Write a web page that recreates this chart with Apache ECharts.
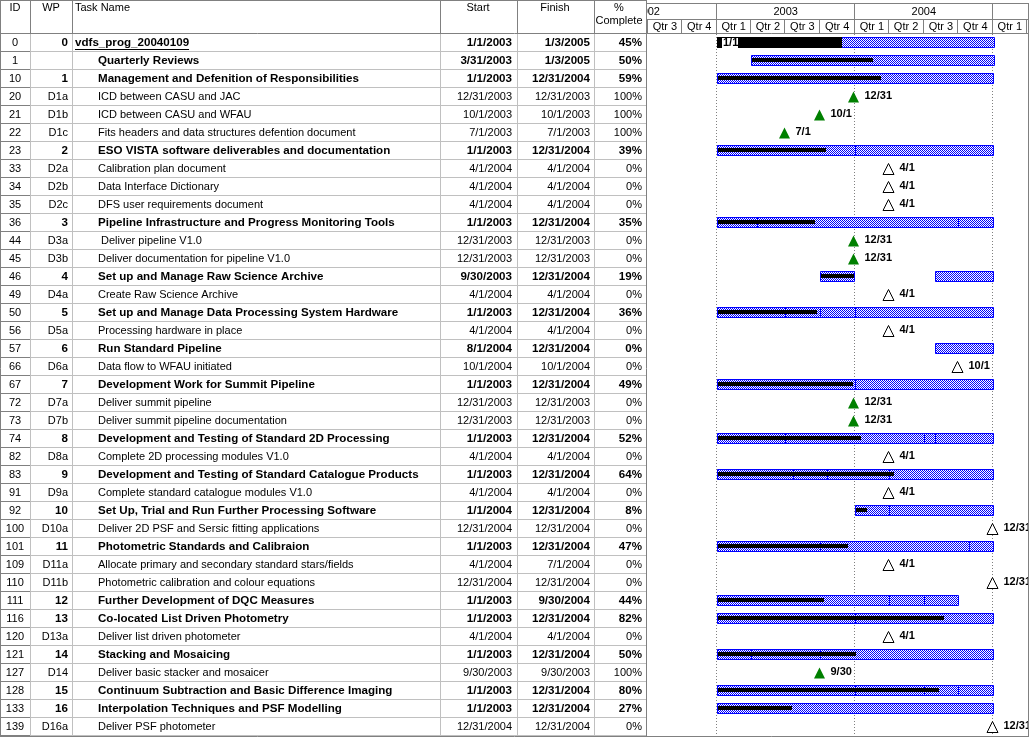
<!DOCTYPE html>
<html><head><meta charset="utf-8">
<script src="https://cdn.jsdelivr.net/npm/echarts@6/dist/echarts.min.js"></script>
<style>html,body{margin:0;padding:0;background:#fff}#c{width:1029px;height:737px}</style>
</head><body><div id="c"></div>
<script>
// ---------------- DATA ----------------
const taskIds = [0,1,10,20,21,22,23,33,34,35,36,44,45,46,49,50,56,57,66,67,72,73,74,82,83,91,92,100,101,109,110,111,116,120,121,127,128,133,139];
const wpCodes = ['0','','1','D1a','D1b','D1c','2','D2a','D2b','D2c','3','D3a','D3b','4','D4a','5','D5a','6','D6a','7','D7a','D7b','8','D8a','9','D9a','10','D10a','11','D11a','D11b','12','13','D13a','14','D14','15','16','D16a'];
const taskNames = [
 'vdfs_prog_20040109',
 'Quarterly Reviews',
 'Management and Defenition of Responsibilities',
 'ICD between CASU and JAC',
 'ICD between CASU and WFAU',
 'Fits headers and data structures defention document',
 'ESO VISTA software deliverables and documentation',
 'Calibration plan document',
 'Data Interface Dictionary',
 'DFS user requirements document',
 'Pipeline Infrastructure and Progress Monitoring Tools',
 ' Deliver pipeline V1.0',
 'Deliver documentation for pipeline V1.0',
 'Set up and Manage Raw Science Archive',
 'Create Raw Science Archive',
 'Set up and Manage Data Processing System Hardware',
 'Processing hardware in place',
 'Run Standard Pipeline',
 'Data flow to WFAU initiated',
 'Development Work for Summit Pipeline',
 'Deliver summit pipeline',
 'Deliver summit pipeline documentation',
 'Development and Testing of Standard 2D Processing',
 'Complete 2D processing modules V1.0',
 'Development and Testing of Standard Catalogue Products',
 'Complete standard catalogue modules V1.0',
 'Set Up, Trial and Run Further Processing Software',
 'Deliver 2D PSF and Sersic fitting applications',
 'Photometric Standards and Calibraion',
 'Allocate primary and secondary standard stars/fields',
 'Photometric calibration and colour equations',
 'Further Development of DQC Measures',
 'Co-located List Driven Photometry',
 'Deliver list driven photometer',
 'Stacking and Mosaicing',
 'Deliver basic stacker and mosaicer',
 'Continuum Subtraction and Basic Difference Imaging',
 'Interpolation Techniques and PSF Modelling',
 'Deliver PSF photometer'
];
const startDates = ['1/1/2003','3/31/2003','1/1/2003','12/31/2003','10/1/2003','7/1/2003','1/1/2003','4/1/2004','4/1/2004','4/1/2004','1/1/2003','12/31/2003','12/31/2003','9/30/2003','4/1/2004','1/1/2003','4/1/2004','8/1/2004','10/1/2004','1/1/2003','12/31/2003','12/31/2003','1/1/2003','4/1/2004','1/1/2003','4/1/2004','1/1/2004','12/31/2004','1/1/2003','4/1/2004','12/31/2004','1/1/2003','1/1/2003','4/1/2004','1/1/2003','9/30/2003','1/1/2003','1/1/2003','12/31/2004'];
const finishDates = ['1/3/2005','1/3/2005','12/31/2004','12/31/2003','10/1/2003','7/1/2003','12/31/2004','4/1/2004','4/1/2004','4/1/2004','12/31/2004','12/31/2003','12/31/2003','12/31/2004','4/1/2004','12/31/2004','4/1/2004','12/31/2004','10/1/2004','12/31/2004','12/31/2003','12/31/2003','12/31/2004','4/1/2004','12/31/2004','4/1/2004','12/31/2004','12/31/2004','12/31/2004','7/1/2004','12/31/2004','9/30/2004','12/31/2004','4/1/2004','12/31/2004','9/30/2003','12/31/2004','12/31/2004','12/31/2004'];
const pctComplete = [45,50,59,100,100,100,39,0,0,0,35,0,0,19,0,36,0,0,0,49,0,0,52,0,64,0,8,0,47,0,0,44,82,0,50,100,80,27,0];
// P = project summary, S = summary / task bar, M = milestone
const rowKinds = ['P','S','S','M','M','M','S','M','M','M','S','M','M','S','M','S','M','S','M','S','M','M','S','M','S','M','S','M','S','M','M','S','S','M','S','M','S','S','M'];
// milestones dated on/before the status date are drawn filled green
const statusDate = '1/9/2004';
// split task segments (by task ID)
const splitSegments = { 46: [['9/30/2003','12/31/2003'], ['8/1/2004','12/31/2004']] };
// internal subtask boundary marks inside bars (by task ID)
const barDividers = {
  23: ['1/1/2004'],
  36: ['4/16/2003','10/1/2004'],
  50: ['7/1/2003','10/1/2003','1/1/2004'],
  67: ['1/1/2004'],
  74: ['7/1/2003','7/1/2004','8/1/2004'],
  83: ['7/20/2003','10/20/2003','4/1/2004'],
  92: ['4/1/2004'],
  101: ['10/1/2003','10/30/2004'],
  111: ['4/1/2004','7/1/2004'],
  116: ['1/1/2004'],
  121: ['4/1/2003','10/1/2003'],
  128: ['1/1/2004','7/1/2004','10/1/2004']
};
// timescale
const yearStarts = ['1/1/2002','1/1/2003','1/1/2004','1/1/2005'];
const yearEnds   = ['1/1/2003','1/1/2004','1/1/2005','1/1/2006'];
const yearNames  = ['2002','2003','2004','2005'];
const quarterStarts = ['7/1/2002','10/1/2002','1/1/2003','4/1/2003','7/1/2003','10/1/2003','1/1/2004','4/1/2004','7/1/2004','10/1/2004','1/1/2005','4/1/2005'];
const quarterEnds   = ['10/1/2002','1/1/2003','4/1/2003','7/1/2003','10/1/2003','1/1/2004','4/1/2004','7/1/2004','10/1/2004','1/1/2005','4/1/2005','7/1/2005'];
const quarterNames  = ['Qtr 3','Qtr 4','Qtr 1','Qtr 2','Qtr 3','Qtr 4','Qtr 1','Qtr 2','Qtr 3','Qtr 4','Qtr 1','Qtr 2'];
const gridYearLines = ['1/1/2003','1/1/2004','1/1/2005'];
const axisMin = '6/27/2002', axisMax = '4/6/2005';

// ---------------- HELPERS ----------------
function parseMDY(s){ const p = s.split('/').map(Number); return new Date(p[2], p[0]-1, p[1]).getTime(); }
const FONT = '11px "Liberation Sans", Arial, sans-serif';
const BFONT = 'bold 11.6px "Liberation Sans", Arial, sans-serif';
const LFONT = 'bold 11px "Liberation Sans", Arial, sans-serif';
const mctx = document.createElement('canvas').getContext('2d');
function textW(t, f){ mctx.font = f; return mctx.measureText(t).width; }
function ln(x1,y1,x2,y2,c,dash){ const o={type:'line', silent:true, shape:{x1,y1,x2,y2}, style:{stroke:c, lineWidth:1}}; if(dash) o.style.lineDash=dash; return o; }
function tx(x,y,t,f,al){ return {type:'text', silent:true, style:{x, y, text:t, font:f, fill:'#000', align:al||'left', verticalAlign:'middle'}}; }

// hatch pattern (blue checkerboard)
const pc = document.createElement('canvas'); pc.width = 2; pc.height = 2;
const pg = pc.getContext('2d'); pg.fillStyle = '#ffffff'; pg.fillRect(0,0,2,2);
pg.fillStyle = '#0000ff'; pg.fillRect(0,0,1,1); pg.fillRect(1,1,1,1);
const hatch = {image: pc, repeat: 'repeat'};

const COLS = [30, 72, 440, 517, 594];
const TABLE_W = 646;

// ---------------- TABLE ----------------
function renderTable(params, api){
  const i = params.dataIndex;
  const yc = Math.round(api.coord([0, i])[1]) + 0.5;
  const top = yc - 9, bot = yc + 9;
  const kind = rowKinds[i];
  const f = kind === 'M' ? FONT : BFONT;
  const ch = [];
  const yb = Math.round(bot) - 0.5;
  ch.push(ln(0, yb, 30, yb, '#808080'));
  ch.push(ln(30, yb, TABLE_W, yb, '#c0c0c0'));
  COLS.forEach(x => ch.push(ln(x+0.5, top, x+0.5, bot, '#c0c0c0')));
  ch.push(tx(15, yc, String(taskIds[i]), FONT, 'center'));
  ch.push(tx(68, yc, wpCodes[i], f, 'right'));
  const nx = kind === 'P' ? 75 : 98;
  ch.push(tx(nx, yc, taskNames[i], f, 'left'));
  if (kind === 'P') {
    const w = textW(taskNames[i], BFONT);
    ch.push(ln(nx, Math.round(yc)+6.5, nx + w, Math.round(yc)+6.5, '#000'));
  }
  ch.push(tx(512, yc, startDates[i], f, 'right'));
  ch.push(tx(590, yc, finishDates[i], f, 'right'));
  ch.push(tx(642, yc, pctComplete[i] + '%', f, 'right'));
  return {type:'group', children: ch};
}

// ---------------- GANTT ----------------
function renderGantt(params, api){
  const i = params.dataIndex;
  const s = parseMDY(startDates[i]), e = parseMDY(finishDates[i]);
  const p0 = api.coord([s, i]);
  const yc = Math.round(p0[1]) + 1;
  const kind = rowKinds[i];
  const ch = [];
  if (kind === 'M') {
    const x = Math.round(p0[0]) - 0.5;
    const done = s <= parseMDY(statusDate);
    ch.push({type:'polygon', silent:true, shape:{points:[[x, yc-5.5],[x-5.5, yc+5.5],[x+5.5, yc+5.5]]},
      style: done ? {fill:'#008000'} : {fill:'#ffffff', stroke:'#000000', lineWidth:1}});
    const p = startDates[i].split('/');
    ch.push(tx(x + 11, yc - 1, p[0] + '/' + p[1], LFONT, 'left'));
  } else {
    const segs = splitSegments[taskIds[i]] || [[startDates[i], finishDates[i]]];
    segs.forEach(sg => {
      const x1 = Math.round(api.coord([parseMDY(sg[0]), i])[0]);
      const x2 = Math.round(api.coord([parseMDY(sg[1]), i])[0]);
      ch.push({type:'rect', silent:true, shape:{x:x1+0.5, y:yc-5.5, width:x2-x1, height:10},
        style:{fill:hatch, stroke:'#0000ff', lineWidth:1}});
    });
    (barDividers[taskIds[i]] || []).forEach(d => {
      const xd = Math.round(api.coord([parseMDY(d), i])[0]) + 0.5;
      ch.push({type:'line', silent:true, shape:{x1:xd, y1:yc-5, x2:xd, y2:yc+4}, style:{stroke:'#0000ff', lineWidth:1}});
    });
    if (pctComplete[i] > 0) {
      const pe = s + (e - s) * pctComplete[i] / 100;
      const x1 = Math.round(p0[0]);
      const x2 = Math.round(api.coord([pe, i])[0]);
      if (kind === 'P') {
        ch.push({type:'rect', silent:true, shape:{x:x1, y:yc-6, width:x2-x1, height:11}, style:{fill:'#000'}});
        ch.push({type:'rect', silent:true, shape:{x:x1+5, y:yc-5, width:16, height:10}, style:{fill:'#fff'}});
        const p = startDates[i].split('/');
        ch.push(tx(x1+6, yc, p[0] + '/' + p[1], LFONT, 'left'));
      } else {
        ch.push({type:'rect', silent:true, shape:{x:x1+1, y:yc-3, width:x2-x1, height:4}, style:{fill:'#000'}});
      }
    }
  }
  return {type:'group', children: ch};
}

function renderYearLine(params, api){
  const x = Math.round(api.coord([parseMDY(gridYearLines[params.dataIndex]), 0])[0]) - 0.5;
  return ln(x, 34, x, 736, '#808080', [1,2]);
}
function renderQuarter(params, api){
  const k = params.dataIndex;
  const x1 = Math.round(api.coord([parseMDY(quarterStarts[k]), 0])[0]) - 0.5;
  const x2 = api.coord([parseMDY(quarterEnds[k]), 0])[0];
  return {type:'group', children:[ ln(x1, 19.5, x1, 33.5, '#808080'), tx((x1+x2)/2, 27, quarterNames[k], FONT, 'center') ]};
}
function renderYear(params, api){
  const k = params.dataIndex;
  const x1 = Math.round(api.coord([parseMDY(yearStarts[k]), 0])[0]) - 0.5;
  const x2 = api.coord([parseMDY(yearEnds[k]), 0])[0];
  return {type:'group', children:[ ln(x1, 3.5, x1, 19.5, '#808080'), tx((x1+x2)/2, 12, yearNames[k], FONT, 'center') ]};
}

// ---------------- CHART ----------------
const chart = echarts.init(document.getElementById('c'), null, {renderer:'canvas'});
const rowsCat = taskIds.map(String);
const headerGraphics = [
  {type:'rect', z:100, shape:{x:0, y:0, width:TABLE_W, height:33}, style:{fill:'#fff'}},
  {type:'text', z:101, style:{x:15, y:8, text:'ID', font:FONT, fill:'#000', align:'center', verticalAlign:'middle'}},
  {type:'text', z:101, style:{x:51, y:8, text:'WP', font:FONT, fill:'#000', align:'center', verticalAlign:'middle'}},
  {type:'text', z:101, style:{x:75, y:8, text:'Task Name', font:FONT, fill:'#000', align:'left', verticalAlign:'middle'}},
  {type:'text', z:101, style:{x:478, y:8, text:'Start', font:FONT, fill:'#000', align:'center', verticalAlign:'middle'}},
  {type:'text', z:101, style:{x:555, y:8, text:'Finish', font:FONT, fill:'#000', align:'center', verticalAlign:'middle'}},
  {type:'text', z:101, style:{x:619, y:8, text:'%', font:FONT, fill:'#000', align:'center', verticalAlign:'middle'}},
  {type:'text', z:101, style:{x:619, y:21, text:'Complete', font:FONT, fill:'#000', align:'center', verticalAlign:'middle'}}
];
COLS.forEach(x => headerGraphics.push({type:'line', z:101, shape:{x1:x+0.5, y1:0, x2:x+0.5, y2:33}, style:{stroke:'#808080', lineWidth:1}}));
[
  [0, 0.5, TABLE_W, 0.5], [646, 3.5, 1029, 3.5], [646, 19.5, 1029, 19.5], [0, 33.5, 1029, 33.5],
  [646.5, 0, 646.5, 737], [0.5, 0, 0.5, 737], [1028.5, 3, 1028.5, 737], [0, 736.5, 1029, 736.5]
].forEach(l => headerGraphics.push({type:'line', z:102, shape:{x1:l[0], y1:l[1], x2:l[2], y2:l[3]}, style:{stroke:'#808080', lineWidth:1}}));

chart.setOption({
  animation: false,
  backgroundColor: '#fff',
  grid: [
    {left:0, top:33, width:TABLE_W, height:702, show:false},
    {left:646, right:0, top:33, height:702, show:false}
  ],
  xAxis: [
    {type:'value', gridIndex:0, min:0, max:TABLE_W, show:false},
    {type:'time', gridIndex:1, min:parseMDY(axisMin), max:parseMDY(axisMax), show:false}
  ],
  yAxis: [
    {type:'category', gridIndex:0, data:rowsCat, inverse:true, show:false},
    {type:'category', gridIndex:1, data:rowsCat, inverse:true, show:false}
  ],
  graphic: headerGraphics,
  series: [
    {type:'custom', xAxisIndex:0, yAxisIndex:0, clip:false, z:3, renderItem:renderTable,
      data: taskIds.map((id,i) => [0, i]), encode:{x:0, y:1}},
    {type:'custom', xAxisIndex:1, yAxisIndex:1, clip:false, z:1, renderItem:renderYearLine,
      data: gridYearLines.map(d => [parseMDY(d), 0]), encode:{x:0, y:1}},
    {type:'custom', xAxisIndex:1, yAxisIndex:1, clip:false, z:4, renderItem:renderGantt,
      data: taskIds.map((id,i) => [parseMDY(startDates[i]), i]), encode:{x:0, y:1}},
    {type:'custom', xAxisIndex:1, yAxisIndex:1, clip:false, z:5, renderItem:renderQuarter,
      data: quarterStarts.map(d => [parseMDY(d), 0]), encode:{x:0, y:1}},
    {type:'custom', xAxisIndex:1, yAxisIndex:1, clip:false, z:5, renderItem:renderYear,
      data: yearStarts.map(d => [parseMDY(d), 0]), encode:{x:0, y:1}}
  ]
});
</script>
</body></html>
